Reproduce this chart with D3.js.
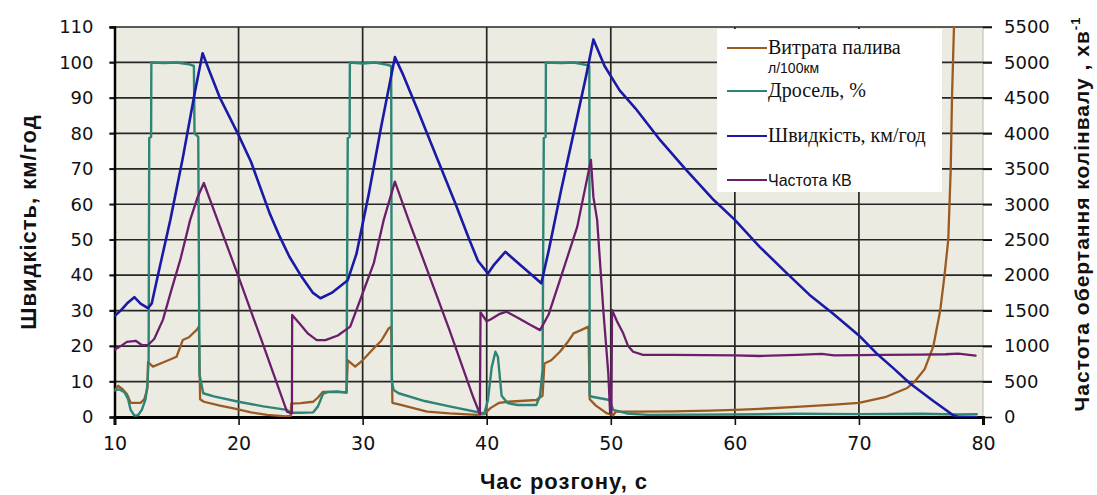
<!DOCTYPE html>
<html>
<head>
<meta charset="utf-8">
<script src="https://cdn.jsdelivr.net/npm/d3@7"></script>
<style>
  html, body { margin: 0; padding: 0; background: #ffffff; }
  svg { display: block; }
</style>
</head>
<body>
<svg id="chart" width="1097" height="495"></svg>
<script>
// Acceleration run: time (s) vs speed, throttle, fuel use and engine speed.

// Fuel consumption, l/100km  [time s, value]
const fuelSeries = [
  [10,7.5],[10.3,8.8],[10.6,8],[11,6.5],[11.3,4],[12.1,4],[12.4,5],[12.65,8],[12.7,15.5],
  [13.1,14.2],[14,15.5],[15,17],[15.5,21.7],[16,22.5],[16.6,24.5],[16.8,25.5],[16.9,5],
  [17.2,4.3],[18.5,3.2],[19.6,2.4],[21,1.3],[22.3,0.6],[23.8,0.2],[24.2,0.3],[24.25,3.8],
  [25,3.9],[26,4.3],[26.4,5.5],[26.8,7.1],[28.7,7],[28.8,16],[29.4,14.2],[30,16],[30.9,19.4],
  [31.5,21.5],[32.1,25],[32.3,25.5],[32.4,4],[33,3.5],[35.2,1.5],[37,1],[39.2,0.6],[39.8,0.8],
  [40.3,2.5],[41,4],[41.7,4.3],[44,4.8],[44.5,6],[44.65,15.1],[45.2,16],[45.9,18.4],[46.5,21],
  [47,23.6],[47.6,24.5],[48.2,25.5],[48.3,5],[48.8,3.2],[49.7,1],[50.2,0.5],[50.4,1.5],[52,1.5],
  [55,1.6],[58,1.8],[60,2],[62,2.3],[65.3,2.9],[68,3.5],[70,4],[72.2,5.7],[73.85,8.1],[74.5,10],
  [75.3,13.5],[76,20],[76.55,30],[76.9,40],[77.2,50],[77.4,70],[77.5,90],[77.66,110],[77.7,116]
];

// Throttle opening, %
const throttleSeries = [
  [10,7.5],[10.4,7.8],[10.8,7],[11.1,5],[11.3,2],[11.6,0.4],[11.9,0.5],[12.2,2],[12.5,5],
  [12.65,9],[12.75,16],[12.8,78.7],[12.95,79],[12.97,100],[14,99.8],[15,100],[16,99.5],
  [16.4,99],[16.45,80],[16.75,79],[16.85,12],[17.15,6.7],[18,5.8],[20,4.3],[22,3],[23.9,2],
  [24.2,1.2],[25,1.2],[26,1.3],[26.4,3],[26.8,6.5],[27.2,7.1],[28,7.2],[28.7,6.8],[28.8,78.7],
  [28.95,79],[28.97,100],[30,99.7],[31,100],[32,99.3],[32.3,99],[32.35,10],[32.5,7.6],
  [32.9,6.7],[35,4.5],[37,3],[39.5,1.2],[39.8,1],[40.1,4.8],[40.4,14],[40.7,18.4],[40.9,17],
  [41.2,6],[41.7,3.9],[42.5,3.4],[44,3.4],[44.3,6],[44.5,13.3],[44.6,78.7],[44.75,79],
  [44.77,100],[46,99.8],[47,100],[48,99.3],[48.27,99],[48.3,6],[48.5,5.7],[49.9,4.8],
  [50.2,2],[51.3,1],[53,0.6],[60,0.7],[65,0.9],[70,0.8],[75,0.9],[78,0.7],[79.5,0.8]
];

// Vehicle speed, km/h
const speedSeries = [
  [10,28.5],[10.5,30],[11,32],[11.6,33.8],[12.1,32],[12.7,30.7],[13,32],[13.5,40],[14.5,55.6],
  [15.5,73],[16.5,92],[17.1,102.6],[17.6,98],[18.5,90],[20,79.5],[21,72],[22.5,57.5],
  [23.3,51],[24.1,45.2],[25,40],[26,35],[26.6,33.5],[27.5,35],[28.8,38.6],[29.5,46],
  [30.5,63],[31.5,82],[32.6,101.5],[33.2,97],[34.5,86],[36,73],[37.5,60],[38.6,50],
  [39.3,44],[40.1,40.5],[40.6,43],[41.5,46.6],[42.5,43.5],[43.5,40.5],[44.4,37.7],[45,47],
  [46,64],[47,80],[48,96],[48.6,106.5],[49.5,99],[50.7,92.2],[52,87],[54,78],[56,70],
  [58.3,61.2],[60,55.6],[62,48],[64.2,40.5],[66,34.5],[67.9,29.2],[70,23],[71.4,18],
  [72.7,14],[74.1,9.5],[76,4.5],[77.6,0.5],[78,0],[79.5,0]
];

// Crankshaft speed, rpm (right axis)
const rpmSeries = [
  [10,950],[10.5,1000],[11,1060],[11.7,1075],[12.2,1015],[12.7,1015],[13.2,1100],[13.9,1370],
  [14.6,1800],[15.3,2215],[16.1,2780],[16.7,3100],[17.2,3300],[18.2,2825],[20,1975],
  [22,1010],[23.9,75],[24.3,50],[24.32,1440],[25,1300],[25.6,1175],[26.3,1085],[27,1085],
  [28,1150],[29,1275],[29.8,1650],[30.9,2170],[31.7,2780],[32.6,3320],[33.7,2780],
  [35.2,2075],[37,1225],[38.9,285],[39.45,40],[39.5,1475],[40,1350],[40.3,1375],[41,1450],
  [41.6,1485],[42.5,1400],[43.5,1300],[44.3,1225],[45,1450],[45.9,1930],[47.3,2685],
  [48.4,3625],[48.6,3100],[48.9,2780],[49.4,1500],[49.8,615],[49.95,50],[50.05,50],
  [50.1,1510],[50.5,1350],[51,1180],[51.4,1000],[51.8,920],[52.6,875],[55,875],[60,870],
  [62,860],[65,875],[67,890],[68,870],[72,875],[75,880],[77,885],[78,895],[79.4,865]
];

const leftTicks = [0,10,20,30,40,50,60,70,80,90,100,110];
const rightTicks = [0,500,1000,1500,2000,2500,3000,3500,4000,4500,5000,5500];
const timeTicks = [10,20,30,40,50,60,70,80];

const legendItems = [
  { lines: ["Витрата палива", "л/100км"], color: "#9a5b22", serif: true },
  { lines: ["Дросель, %"], color: "#2e8576", serif: true },
  { lines: ["Швидкість, км/год"], color: "#1a1aa6", serif: true },
  { lines: ["Частота КВ"], color: "#6b1f6b", serif: false }
];

const svg = d3.select("#chart");
const plot = { left: 114.5, right: 983, top: 27, bottom: 417 };

const x = d3.scaleLinear().domain([10, 80]).range([plot.left, plot.right]);
const yL = d3.scaleLinear().domain([0, 110]).range([plot.bottom, plot.top]);
const yR = d3.scaleLinear().domain([0, 5500]).range([plot.bottom, plot.top]);

// plot background
svg.append("rect")
  .attr("x", plot.left).attr("y", plot.top)
  .attr("width", plot.right - plot.left).attr("height", plot.bottom - plot.top)
  .attr("fill", "#ecebe2");

// light right border
svg.append("line")
  .attr("x1", plot.right).attr("x2", plot.right)
  .attr("y1", plot.top).attr("y2", plot.bottom)
  .attr("stroke", "#b8b8b0").attr("stroke-width", 1);

// horizontal grid (also serves as the right-hand tick marks)
svg.append("g").selectAll("line")
  .data(leftTicks.filter(d => d > 0))
  .join("line")
  .attr("x1", plot.left - 5).attr("x2", plot.right + 9)
  .attr("y1", d => yL(d)).attr("y2", d => yL(d))
  .attr("stroke", "#262626").attr("stroke-width", 1.7);

// vertical grid
svg.append("g").selectAll("line")
  .data(timeTicks.filter(d => d > 10 && d < 80))
  .join("line")
  .attr("x1", d => x(d)).attr("x2", d => x(d))
  .attr("y1", plot.top).attr("y2", plot.bottom)
  .attr("stroke", "#262626").attr("stroke-width", 1.7);

// axes
const axisFont = "'DejaVu Sans', Verdana, sans-serif";

const leftAxis = svg.append("g")
  .attr("transform", `translate(${plot.left},0)`)
  .call(d3.axisLeft(yL).tickValues(leftTicks).tickSize(5).tickPadding(16));
const bottomAxis = svg.append("g")
  .attr("transform", `translate(0,${plot.bottom})`)
  .call(d3.axisBottom(x).tickValues(timeTicks).tickSize(8).tickPadding(12));
const rightAxis = svg.append("g")
  .attr("transform", `translate(${plot.right},0)`)
  .call(d3.axisRight(yR).tickValues(rightTicks).tickFormat(d3.format("d")).tickSize(9).tickPadding(12));

[leftAxis, bottomAxis, rightAxis].forEach(g => {
  g.selectAll("text")
    .attr("font-family", axisFont).attr("font-size", 18).attr("fill", "#111");
  g.selectAll(".tick line").attr("stroke", "#111").attr("stroke-width", 1.6);
});
leftAxis.select(".domain").attr("stroke", "#000").attr("stroke-width", 2.5);
bottomAxis.select(".domain").attr("stroke", "#000").attr("stroke-width", 3);
rightAxis.select(".domain").attr("stroke", "none");
bottomAxis.selectAll("text").attr("font-size", 19);

// clip region for the data lines
svg.append("clipPath").attr("id", "plotClip")
  .append("rect")
  .attr("x", plot.left).attr("y", plot.top - 1)
  .attr("width", plot.right - plot.left + 2).attr("height", plot.bottom - plot.top + 1);

const lineL = d3.line().x(d => x(d[0])).y(d => yL(d[1]));
const lineR = d3.line().x(d => x(d[0])).y(d => yR(d[1]));

const lines = svg.append("g").attr("clip-path", "url(#plotClip)")
  .attr("fill", "none").attr("stroke-linejoin", "round").attr("stroke-linecap", "round");

lines.append("path").datum(fuelSeries).attr("d", lineL)
  .attr("stroke", legendItems[0].color).attr("stroke-width", 2.3);
lines.append("path").datum(throttleSeries).attr("d", lineL)
  .attr("stroke", legendItems[1].color).attr("stroke-width", 2.4);
lines.append("path").datum(rpmSeries).attr("d", lineR)
  .attr("stroke", legendItems[3].color).attr("stroke-width", 2.3);
lines.append("path").datum(speedSeries).attr("d", lineL)
  .attr("stroke", legendItems[2].color).attr("stroke-width", 2.6);

// legend
const legend = svg.append("g");
legend.append("rect")
  .attr("x", 717).attr("y", 29).attr("width", 225).attr("height", 163)
  .attr("fill", "#ffffff");

const legendRows = [48, 91, 136, 180];
legendItems.forEach((item, i) => {
  const yy = legendRows[i];
  legend.append("line")
    .attr("x1", 727).attr("x2", 767).attr("y1", yy).attr("y2", yy)
    .attr("stroke", item.color).attr("stroke-width", 2.2);
  legend.append("text")
    .attr("x", 768).attr("y", yy + 6)
    .attr("font-family", item.serif ? "'Liberation Serif', 'Times New Roman', serif" : "'Liberation Sans', Arial, sans-serif")
    .attr("font-size", item.serif ? 20 : 16)
    .attr("fill", "#111")
    .text(item.lines[0]);
  if (item.lines[1]) {
    legend.append("text")
      .attr("x", 768).attr("y", yy + 25)
      .attr("font-family", "'Liberation Sans', Arial, sans-serif")
      .attr("font-size", 14).attr("fill", "#111")
      .text(item.lines[1]);
  }
});

// axis titles
const titleFont = "'Liberation Sans', Arial, sans-serif";
svg.append("text")
  .attr("transform", `translate(36,${(plot.top + plot.bottom) / 2}) rotate(-90)`)
  .attr("text-anchor", "middle")
  .attr("font-family", titleFont).attr("font-weight", "bold").attr("font-size", 22)
  .attr("letter-spacing", 1)
  .attr("fill", "#111")
  .text("Швидкість, км/год");

svg.append("text")
  .attr("x", 564).attr("y", 489)
  .attr("text-anchor", "middle")
  .attr("font-family", titleFont).attr("font-weight", "bold").attr("font-size", 22)
  .attr("letter-spacing", 1)
  .attr("fill", "#111")
  .text("Час розгону, с");

const rt = svg.append("text")
  .attr("transform", `translate(1089,214) rotate(-90)`)
  .attr("text-anchor", "middle")
  .attr("font-family", titleFont).attr("font-weight", "bold").attr("font-size", 21)
  .attr("letter-spacing", 1)
  .attr("fill", "#111");
rt.append("tspan").text("Частота обертання колінвалу , хв");
rt.append("tspan").attr("dy", -9).attr("font-size", 13).text("-1");
</script>
</body>
</html>
